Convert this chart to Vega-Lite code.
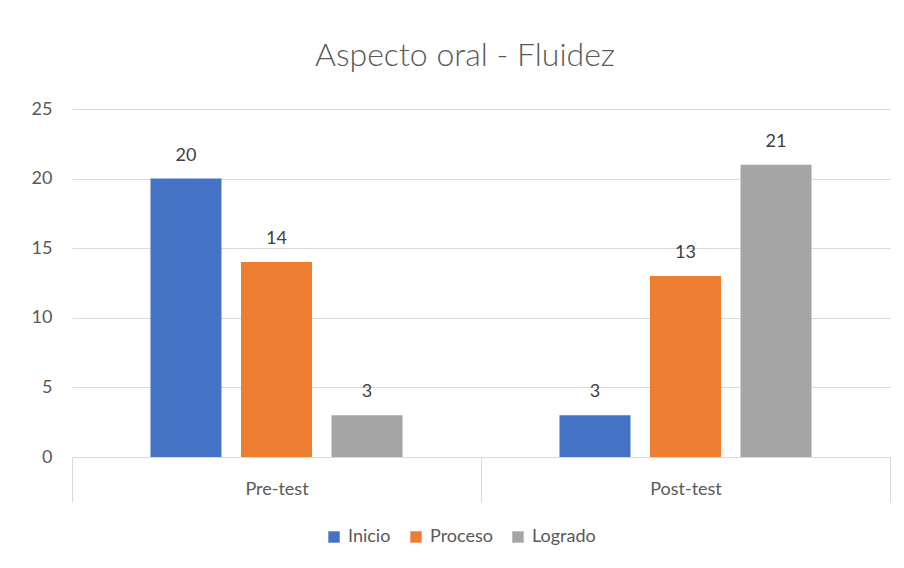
{
  "$schema": "https://vega.github.io/schema/vega-lite/v6.json",
  "autosize": "none",
  "width": 818,
  "height": 348,
  "padding": {"left": 72, "top": 109, "right": 14, "bottom": 111},
  "background": "white",
  "title": {
    "text": "Aspecto oral - Fluidez",
    "fontSize": 32,
    "font": "Lato",
    "fontWeight": 300,
    "color": "#595959",
    "anchor": "middle",
    "dx": -16,
    "offset": 27
  },
  "config": {
    "view": {"stroke": null},
    "font": "Lato"
  },
  "data": {
    "values": [
      {"test": "Pre-test", "nivel": "Inicio", "valor": 20},
      {"test": "Pre-test", "nivel": "Proceso", "valor": 14},
      {"test": "Pre-test", "nivel": "Logrado", "valor": 3},
      {"test": "Post-test", "nivel": "Inicio", "valor": 3},
      {"test": "Post-test", "nivel": "Proceso", "valor": 13},
      {"test": "Post-test", "nivel": "Logrado", "valor": 21}
    ]
  },
  "encoding": {
    "x": {
      "field": "test",
      "type": "nominal",
      "sort": ["Pre-test", "Post-test"],
      "scale": {"paddingInner": 0, "paddingOuter": 0},
      "axis": {
        "title": null,
        "labelAngle": 0,
        "labelFontSize": 18,
        "labelColor": "#595959",
        "labelFont": "Lato",
        "domainColor": "#d9d9d9",
        "tickColor": "#d9d9d9",
        "tickSize": 45,
        "tickBand": "extent",
        "labelPadding": -22
      }
    },
    "xOffset": {
      "field": "nivel",
      "type": "nominal",
      "sort": ["Inicio", "Proceso", "Logrado"],
      "scale": {"paddingInner": 0.2155, "paddingOuter": 0.867}
    },
    "y": {
      "field": "valor",
      "type": "quantitative",
      "scale": {"domain": [0, 25]},
      "axis": {
        "title": null,
        "values": [0, 5, 10, 15, 20, 25],
        "domain": false,
        "ticks": false,
        "labelFontSize": 18,
        "labelColor": "#595959",
        "labelFont": "Lato",
        "labelPadding": 20,
        "gridColor": "#d9d9d9",
        "gridWidth": 1
      }
    }
  },
  "layer": [
    {
      "mark": {"type": "bar"},
      "encoding": {
        "color": {
          "field": "nivel",
          "type": "nominal",
          "sort": ["Inicio", "Proceso", "Logrado"],
          "scale": {"domain": ["Inicio", "Proceso", "Logrado"], "range": ["#4472C4", "#ED7D31", "#A5A5A5"]},
          "legend": {
            "title": null,
            "orient": "none",
            "direction": "horizontal",
            "legendX": 253,
            "legendY": 419,
            "symbolType": "square",
            "symbolSize": 130,
            "symbolStrokeWidth": 0,
            "labelFontSize": 18,
            "labelColor": "#595959",
            "labelFont": "Lato",
            "columnPadding": 16,
            "labelOffset": 5
          }
        }
      }
    },
    {
      "mark": {"type": "text", "baseline": "alphabetic", "dy": -18, "fontSize": 18, "color": "#404040", "font": "Lato"},
      "encoding": {
        "text": {"field": "valor", "type": "quantitative"}
      }
    }
  ]
}
